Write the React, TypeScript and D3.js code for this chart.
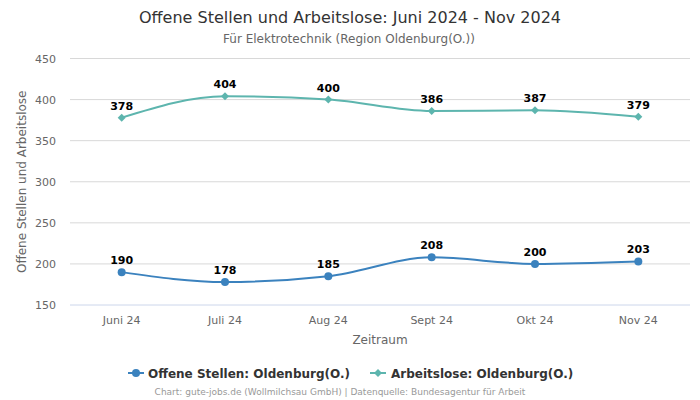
import React from "react";
import * as d3 from "d3";

const categories = ["Juni 24", "Juli 24", "Aug 24", "Sept 24", "Okt 24", "Nov 24"];
const offeneStellen = [190, 178, 185, 208, 200, 203];
const arbeitslose = [378, 404, 400, 386, 387, 379];
const yTicks = [150, 200, 250, 300, 350, 400, 450];

const W = 700;
const H = 400;
const FONT = "DejaVu Sans, sans-serif";
const BLUE = "#3b82be";
const TEAL = "#5db5ae";

export default function App() {
  const x = d3.scaleBand<string>().domain(categories).range([70, 690]);
  const y = d3.scaleLinear().domain([150, 450]).range([305, 58.5]);
  const cx = (c: string) => (x(c) as number) + x.bandwidth() / 2;

  const line = d3
    .line<number>()
    .x((_, i) => cx(categories[i]))
    .y((d) => y(d))
    .curve(d3.curveMonotoneX);

  const diamond = (px: number, py: number, s: number) =>
    `M${px},${py - s}L${px + s},${py}L${px},${py + s}L${px - s},${py}Z`;

  return (
    <svg width={W} height={H} style={{ position: "absolute", left: 0, top: 0, fontFamily: FONT }}>
      <rect width={W} height={H} fill="#fff" />
      <text x={350} y={22.5} textAnchor="middle" fontSize={16} fill="#333">
        Offene Stellen und Arbeitslose: Juni 2024 - Nov 2024
      </text>
      <text x={349} y={43} textAnchor="middle" fontSize={12} fill="#666">
        Für Elektrotechnik (Region Oldenburg(O.))
      </text>

      {yTicks.map((t) => (
        <g key={t}>
          <line x1={70} x2={690} y1={y(t)} y2={y(t)} stroke={t === 150 ? "#ccd6eb" : "#d8d8d8"} strokeWidth={1} />
          <text x={56} y={y(t) + 4} textAnchor="end" fontSize={11} fill="#666">
            {t}
          </text>
        </g>
      ))}

      <text
        transform={`translate(26,${(y(150) + y(450)) / 2}) rotate(-90)`}
        textAnchor="middle"
        fontSize={12}
        fill="#666"
      >
        Offene Stellen und Arbeitslose
      </text>

      {categories.map((c) => (
        <text key={c} x={cx(c)} y={324} textAnchor="middle" fontSize={11} fill="#666">
          {c}
        </text>
      ))}
      <text x={380} y={344} textAnchor="middle" fontSize={12} fill="#666">
        Zeitraum
      </text>

      <path d={line(arbeitslose) || ""} fill="none" stroke={TEAL} strokeWidth={2} />
      <path d={line(offeneStellen) || ""} fill="none" stroke={BLUE} strokeWidth={2} />

      {arbeitslose.map((v, i) => (
        <g key={"a" + i}>
          <path d={diamond(cx(categories[i]), y(v), 4)} fill={TEAL} />
          <text x={cx(categories[i])} y={y(v) - 8} textAnchor="middle" fontSize={11} fontWeight="bold" fill="#000">
            {v}
          </text>
        </g>
      ))}
      {offeneStellen.map((v, i) => (
        <g key={"o" + i}>
          <circle cx={cx(categories[i])} cy={y(v)} r={4} fill={BLUE} />
          <text x={cx(categories[i])} y={y(v) - 8} textAnchor="middle" fontSize={11} fontWeight="bold" fill="#000">
            {v}
          </text>
        </g>
      ))}

      <g>
        <line x1={128} x2={144} y1={373} y2={373} stroke={BLUE} strokeWidth={2} />
        <circle cx={136} cy={373} r={4} fill={BLUE} />
        <text x={148} y={377.5} fontSize={12} fontWeight="bold" fill="#333">
          Offene Stellen: Oldenburg(O.)
        </text>
        <line x1={370} x2={386} y1={373} y2={373} stroke={TEAL} strokeWidth={2} />
        <path d={diamond(378, 373, 4)} fill={TEAL} />
        <text x={391} y={377.5} fontSize={12} fontWeight="bold" fill="#333">
          Arbeitslose: Oldenburg(O.)
        </text>
      </g>

      <text x={340} y={395} textAnchor="middle" fontSize={9} fill="#999">
        Chart: gute-jobs.de (Wollmilchsau GmbH) | Datenquelle: Bundesagentur für Arbeit
      </text>
    </svg>
  );
}
